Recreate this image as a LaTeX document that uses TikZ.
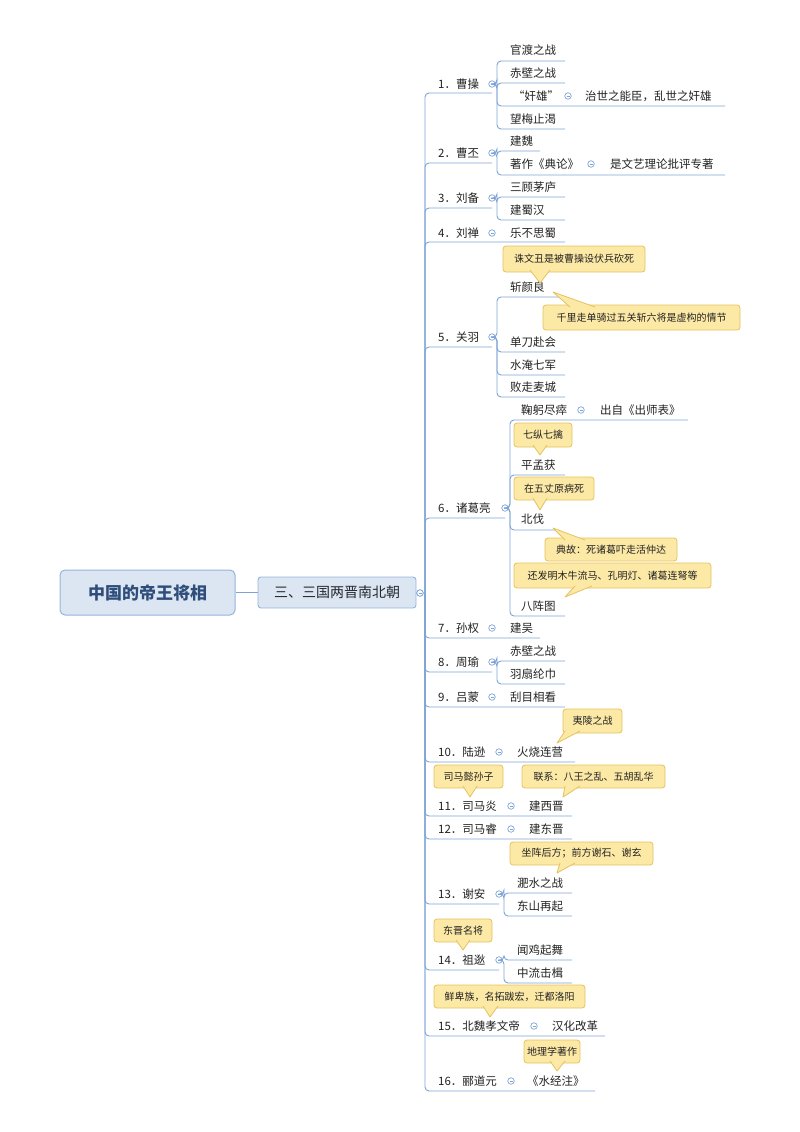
\documentclass[tikz,border=0pt]{standalone}
\usepackage{fontspec}
\setmainfont{Noto Sans CJK SC}
\definecolor{lnc}{HTML}{7DA4D6}
\definecolor{rootfill}{HTML}{DCE6F2}
\definecolor{rootdraw}{HTML}{95B3DE}
\definecolor{roottext}{HTML}{2E4D7B}
\definecolor{cfill}{HTML}{FDE9A6}
\definecolor{cdraw}{HTML}{E5C25E}
\definecolor{txc}{HTML}{222222}
\tikzset{
  ln/.style={draw=lnc,line width=0.9pt,rounded corners=4pt},
  tx/.style={anchor=west,inner sep=0pt,text=txc,font=\fontsize{11.5}{13}\selectfont},
  call/.style={draw=cdraw,fill=cfill,rounded corners=3pt,line width=0.8pt,inner sep=0pt,text=txc,font=\fontsize{10}{12}\selectfont},
  knob/.style={circle,draw=lnc,fill=white,line width=0.7pt,minimum size=6.5pt,inner sep=0pt,
    path picture={\draw[lnc,line width=0.5pt] ([xshift=-1.5pt]path picture bounding box.center)--([xshift=1.5pt]path picture bounding box.center);}}
}
% level-1: name, label, texty, uly, circlex, ulend
\newcommand\lone[6]{\node[tx] (#1) at (438,#3) {#2};
  \node[knob] (#1k) at (#5,#3) {};
  \draw[ln] (m.center) |- (#6,#4);}
% single child on same line: name,text,x,y
\newcommand\solo[4]{\node[tx] (#1) at (#3,#4) {#2};}
% bracket child: parentknob, bx, name, text, textx, texty, uly, ulend
\newcommand\kid[8]{\node[tx] (#3) at (#5,#6) {#4};
  \draw[ln] (#1.east) -| (#2,#7) -- (#8,#7);}
% pointer: bx1,bx2,by,tx,ty
\newcommand\ptr[5]{\fill[cfill] (#1,#3)--(#4,#5)--(#2,#3)--cycle;
  \draw[cdraw,line width=0.8pt,line join=round] (#1,#3)--(#4,#5)--(#2,#3);}
\begin{document}
\begin{tikzpicture}[x=1pt,y=-1pt]
\useasboundingbox (0,0) rectangle (800,1132);
% root and main
\node[draw=rootdraw,fill=rootfill,rounded corners=5pt,line width=1pt,minimum width=175pt,minimum height=45pt,text=roottext,font=\fontsize{17}{20}\selectfont\bfseries] (root) at (147.5,592.5) {中国的帝王将相};
\node[draw=rootdraw,fill=rootfill,rounded corners=3pt,line width=0.9pt,minimum width=158pt,minimum height=31pt,text=txc!85!roottext,font=\fontsize{14}{16}\selectfont] (sec) at (337,592.5) {三、三国两晋南北朝};
\draw[ln] (root.east) -- (sec.west);
\coordinate (m) at (425,593);
\node[knob] (sk) at (420,593) {};
% level 1
\lone{a1}{1．曹操}{84}{93}{492}{492}
\lone{a2}{2．曹丕}{153}{163}{492}{492}
\lone{a3}{3．刘备}{198}{208}{492}{492}
\lone{a4}{4．刘禅}{233}{242}{492}{565}
\lone{a5}{5．关羽}{337}{347}{492}{492}
\lone{a6}{6．诸葛亮}{508}{518}{505}{505}
\lone{a7}{7．孙权}{628}{638}{492}{540}
\lone{a8}{8．周瑜}{662}{672}{492}{492}
\lone{a9}{9．吕蒙}{697}{707}{492}{565}
\lone{a10}{10．陆逊}{752}{762}{499}{575}
\lone{a11}{11．司马炎}{806}{816}{511}{572}
\lone{a12}{12．司马睿}{829}{839}{511}{572}
\lone{a13}{13．谢安}{894}{904}{499}{499}
\lone{a14}{14．祖逖}{960}{970}{499}{499}
\lone{a15}{15．北魏孝文帝}{1026}{1036}{534}{605}
\lone{a16}{16．郦道元}{1081}{1091}{511}{595}
\node[knob] at (sk) {};
% solo children
\solo{b4}{乐不思蜀}{510}{233}
\solo{b7}{建吴}{510}{628}
\solo{b9}{刮目相看}{510}{697}
\solo{b10}{火烧连营}{517}{752}
\solo{b11}{建西晋}{529}{806}
\solo{b12}{建东晋}{529}{829}
\solo{b15}{汉化改革}{552}{1026}
\solo{b16}{《水经注》}{527}{1081}
% 1
\kid{a1k}{497}{c11}{官渡之战}{510}{50}{61}{565}
\kid{a1k}{497}{c12}{赤壁之战}{510}{73}{83}{565}
\kid{a1k}{497}{c13}{“奸雄”}{513}{96}{106}{725}
\kid{a1k}{497}{c14}{望梅止渴}{510}{119}{129}{565}
\node[knob] (c13k) at (568,96) {};
\node[tx] (d13) at (585,96) {治世之能臣，乱世之奸雄};
% 2
\kid{a2k}{497}{c21}{建魏}{510}{141}{151}{540}
\kid{a2k}{497}{c22}{著作《典论》}{510}{164}{175}{725}
\node[knob] (c22k) at (591,164) {};
\node[tx] (d22) at (610,164) {是文艺理论批评专著};
% 3
\kid{a3k}{497}{c31}{三顾茅庐}{510}{187}{197}{565}
\kid{a3k}{497}{c32}{建蜀汉}{510}{210}{220}{565}
% 5
\kid{a5k}{497}{c51}{斩颜良}{510}{287}{297}{565}
\kid{a5k}{497}{c52}{单刀赴会}{510}{342}{352}{565}
\kid{a5k}{497}{c53}{水淹七军}{510}{365}{375}{565}
\kid{a5k}{497}{c54}{败走麦城}{510}{387}{397}{565}
% 6
\kid{a6k}{510}{c61}{鞠躬尽瘁}{521}{410}{420}{688}
\kid{a6k}{510}{c62}{平孟获}{521}{465}{475}{565}
\kid{a6k}{510}{c63}{北伐}{521}{519}{530}{555}
\kid{a6k}{510}{c64}{八阵图}{521}{606}{616}{565}
\node[knob] (c61k) at (581,410) {};
\node[tx] (d61) at (600,410) {出自《出师表》};
% 8
\kid{a8k}{497}{c81}{赤壁之战}{510}{651}{661}{565}
\kid{a8k}{497}{c82}{羽扇纶巾}{510}{674}{684}{565}
% 13
\kid{a13k}{504}{c131}{淝水之战}{517}{883}{893}{572}
\kid{a13k}{504}{c132}{东山再起}{517}{906}{916}{572}
% 14
\kid{a14k}{504}{c141}{闻鸡起舞}{517}{950}{960}{572}
\kid{a14k}{504}{c142}{中流击楫}{517}{973}{983}{572}
% callouts
\node[call,minimum width=142pt,minimum height=26pt] (nA) at (574,259) {诛文丑是被曹操设伏兵砍死};
\ptr{530}{550}{270}{540}{283}
\node[call,minimum width=197pt,minimum height=25pt] (nB) at (641.5,317.5) {千里走单骑过五关斩六将是虚构的情节};
\ptr{570}{595}{307}{553}{292}
\node[call,minimum width=58pt,minimum height=24pt] (nC) at (543,435) {七纵七擒};
\ptr{533}{547}{445}{540}{455}
\node[call,minimum width=80pt,minimum height=23pt] (nD) at (554,488.5) {在五丈原病死};
\ptr{533}{547}{498}{540}{510}
\node[call,minimum width=132pt,minimum height=23pt] (nE) at (611,549.5) {典故：死诸葛吓走活仲达};
\ptr{565}{585}{540}{553}{528}
\node[call,minimum width=197pt,minimum height=25pt] (nF) at (612.5,575.5) {还发明木牛流马、孔明灯、诸葛连弩等};
\ptr{575}{592}{586}{565}{597}
\node[call,minimum width=59pt,minimum height=24pt] (nG) at (592.5,721) {夷陵之战};
\ptr{565}{580}{731}{557}{743}
\node[call,minimum width=69pt,minimum height=23pt] (nH) at (468.5,776.5) {司马懿孙子};
\ptr{463}{477}{786}{470}{797}
\node[call,minimum width=143pt,minimum height=23pt] (nI) at (593.5,776.5) {联系：八王之乱、五胡乱华};
\ptr{565}{580}{786}{563}{797}
\node[call,minimum width=143pt,minimum height=23pt] (nJ) at (581.5,853.5) {坐阵后方；前方谢石、谢玄};
\ptr{560}{575}{863}{557}{873}
\node[call,minimum width=58pt,minimum height=23pt] (nK) at (463,930.5) {东晋名将};
\ptr{456}{470}{940}{463}{950}
\node[call,minimum width=151pt,minimum height=23pt] (nL) at (509.5,996.5) {鲜卑族，名拓跋宏，迁都洛阳};
\ptr{483}{498}{1006}{490}{1017}
\node[call,minimum width=56pt,minimum height=23pt] (nM) at (552,1051.5) {地理学著作};
\ptr{550}{565}{1061}{557}{1071}
\end{tikzpicture}
\end{document}
